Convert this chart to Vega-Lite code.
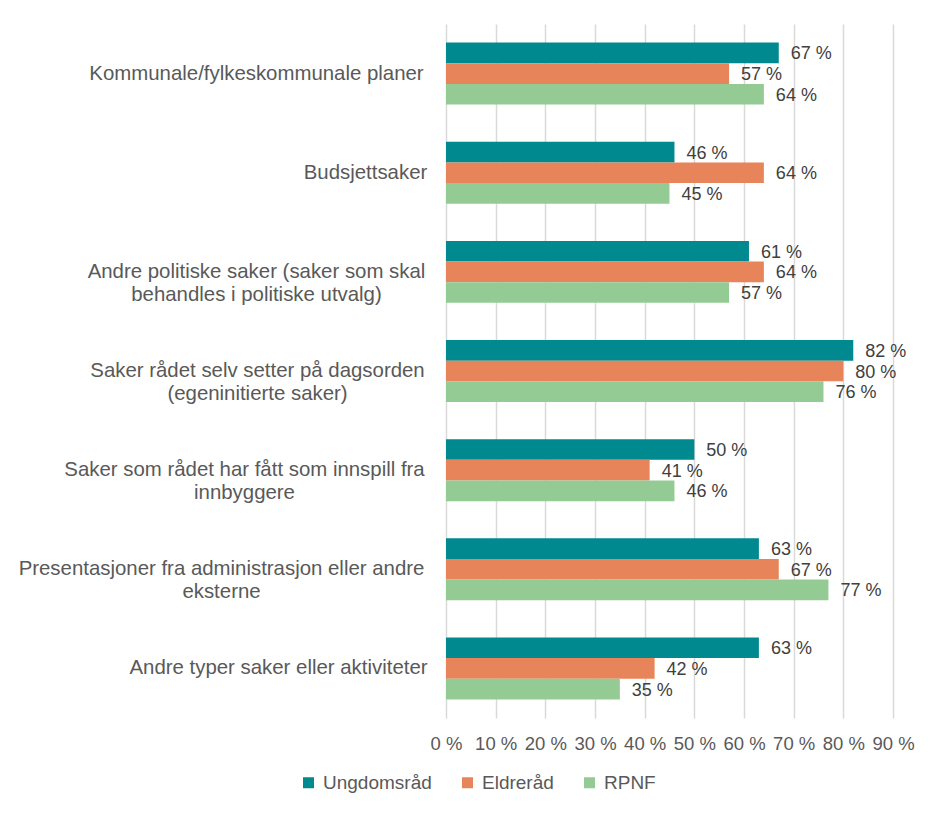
{
  "$schema": "https://vega.github.io/schema/vega-lite/v6.json",
  "width": 447,
  "height": 694,
  "autosize": {"type": "none"},
  "padding": {"left": 446, "top": 24, "right": 46, "bottom": 96},
  "background": "white",
  "config": {
    "view": {"stroke": null},
    "font": "Liberation Sans"
  },
  "data": {
    "values": [
      {"category": "Kommunale/fylkeskommunale planer", "series": "Ungdomsråd", "value": 67, "label": "67 %"},
      {"category": "Kommunale/fylkeskommunale planer", "series": "Eldreråd", "value": 57, "label": "57 %"},
      {"category": "Kommunale/fylkeskommunale planer", "series": "RPNF", "value": 64, "label": "64 %"},
      {"category": "Budsjettsaker", "series": "Ungdomsråd", "value": 46, "label": "46 %"},
      {"category": "Budsjettsaker", "series": "Eldreråd", "value": 64, "label": "64 %"},
      {"category": "Budsjettsaker", "series": "RPNF", "value": 45, "label": "45 %"},
      {"category": "Andre politiske saker (saker som skal|behandles i politiske utvalg)", "series": "Ungdomsråd", "value": 61, "label": "61 %"},
      {"category": "Andre politiske saker (saker som skal|behandles i politiske utvalg)", "series": "Eldreråd", "value": 64, "label": "64 %"},
      {"category": "Andre politiske saker (saker som skal|behandles i politiske utvalg)", "series": "RPNF", "value": 57, "label": "57 %"},
      {"category": "Saker rådet selv setter på dagsorden|(egeninitierte saker)", "series": "Ungdomsråd", "value": 82, "label": "82 %"},
      {"category": "Saker rådet selv setter på dagsorden|(egeninitierte saker)", "series": "Eldreråd", "value": 80, "label": "80 %"},
      {"category": "Saker rådet selv setter på dagsorden|(egeninitierte saker)", "series": "RPNF", "value": 76, "label": "76 %"},
      {"category": "Saker som rådet har fått som innspill fra|innbyggere", "series": "Ungdomsråd", "value": 50, "label": "50 %"},
      {"category": "Saker som rådet har fått som innspill fra|innbyggere", "series": "Eldreråd", "value": 41, "label": "41 %"},
      {"category": "Saker som rådet har fått som innspill fra|innbyggere", "series": "RPNF", "value": 46, "label": "46 %"},
      {"category": "Presentasjoner fra administrasjon eller andre|eksterne", "series": "Ungdomsråd", "value": 63, "label": "63 %"},
      {"category": "Presentasjoner fra administrasjon eller andre|eksterne", "series": "Eldreråd", "value": 67, "label": "67 %"},
      {"category": "Presentasjoner fra administrasjon eller andre|eksterne", "series": "RPNF", "value": 77, "label": "77 %"},
      {"category": "Andre typer saker eller aktiviteter", "series": "Ungdomsråd", "value": 63, "label": "63 %"},
      {"category": "Andre typer saker eller aktiviteter", "series": "Eldreråd", "value": 42, "label": "42 %"},
      {"category": "Andre typer saker eller aktiviteter", "series": "RPNF", "value": 35, "label": "35 %"}
    ]
  },
  "encoding": {
    "y": {
      "field": "category",
      "type": "nominal",
      "sort": null,
      "title": null,
      "scale": {"paddingInner": 0.375, "paddingOuter": 0.1875},
      "axis": {
        "domain": false,
        "ticks": false,
        "tickSize": 0,
        "grid": false,
        "labelExpr": "split(datum.label, '|')",
        "labelFont": "Liberation Sans",
        "labelFontSize": 20.4,
        "labelColor": "#595959",
        "labelLineHeight": 23,
        "labelLimit": 600,
        "labelAlign": "center",
        "labelBaseline": "middle",
        "labelPadding": {
          "condition": [
            {"test": "datum.value == 'Budsjettsaker'", "value": 81},
            {"test": "datum.value == 'Andre politiske saker (saker som skal|behandles i politiske utvalg)'", "value": 190},
            {"test": "datum.value == 'Saker rådet selv setter på dagsorden|(egeninitierte saker)'", "value": 189},
            {"test": "datum.value == 'Saker som rådet har fått som innspill fra|innbyggere'", "value": 202},
            {"test": "datum.value == 'Presentasjoner fra administrasjon eller andre|eksterne'", "value": 225},
            {"test": "datum.value == 'Andre typer saker eller aktiviteter'", "value": 168}
          ],
          "value": 190
        }
      }
    },
    "yOffset": {
      "field": "series",
      "type": "nominal",
      "sort": ["Ungdomsråd", "Eldreråd", "RPNF"],
      "scale": {"paddingInner": 0, "paddingOuter": 0}
    },
    "x": {
      "field": "value",
      "type": "quantitative",
      "title": null,
      "scale": {"domain": [0, 90], "nice": false},
      "axis": {
        "values": [0, 10, 20, 30, 40, 50, 60, 70, 80, 90],
        "labelExpr": "datum.value + ' %'",
        "domain": false,
        "ticks": false,
        "grid": true,
        "gridColor": "#D9D9D9",
        "gridWidth": 1.5,
        "labelFont": "Liberation Sans",
        "labelFontSize": 18.5,
        "labelColor": "#595959",
        "labelPadding": 16,
        "labelFlush": false,
        "labelOverlap": false
      }
    }
  },
  "layer": [
    {
      "mark": {"type": "bar"},
      "encoding": {
        "color": {
          "field": "series",
          "type": "nominal",
          "sort": ["Ungdomsråd", "Eldreråd", "RPNF"],
          "scale": {
            "domain": ["Ungdomsråd", "Eldreråd", "RPNF"],
            "range": ["#00898E", "#E8845A", "#94CB95"]
          },
          "legend": {
            "title": null,
            "orient": "none",
            "direction": "horizontal",
            "legendX": -147,
            "legendY": 749,
            "symbolType": "square",
            "symbolSize": 121,
            "symbolStrokeWidth": 0,
            "labelFont": "Liberation Sans",
            "labelFontSize": 19,
            "labelColor": "#595959",
            "labelOffset": 5,
            "columnPadding": 26,
            "labelLimit": 300
          }
        }
      }
    },
    {
      "mark": {
        "type": "text",
        "align": "left",
        "baseline": "middle",
        "dx": 12,
        "dy": 1.5,
        "font": "Liberation Sans",
        "fontSize": 18,
        "color": "#404040"
      },
      "encoding": {
        "text": {"field": "label"}
      }
    }
  ]
}
